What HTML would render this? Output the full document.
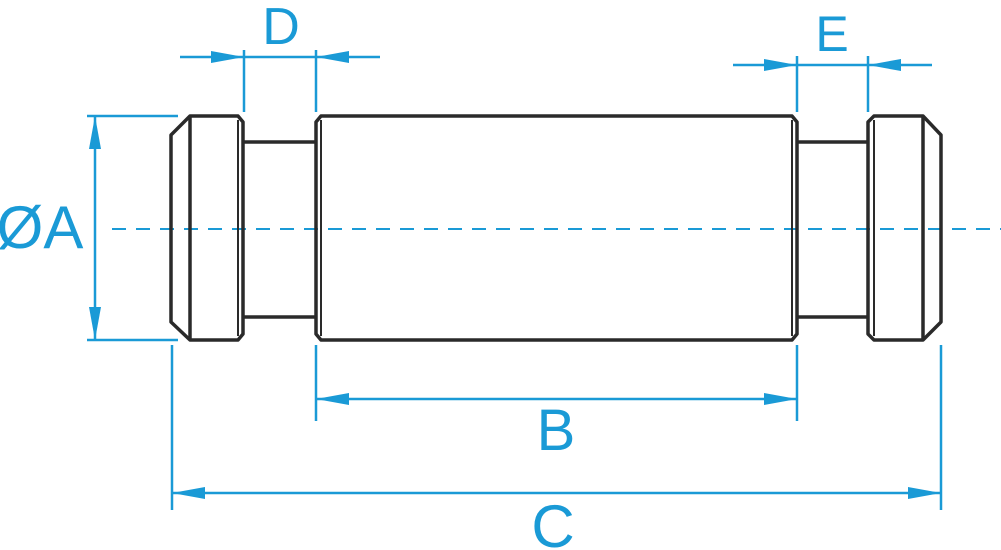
<!DOCTYPE html>
<html><head><style>
html,body{margin:0;padding:0;background:#fff;width:1001px;height:550px;overflow:hidden}
svg{display:block}
text{font-family:"Liberation Sans",sans-serif;fill:#1a9ad6}
</style></head><body>
<svg width="1001" height="550" viewBox="0 0 1001 550" xmlns="http://www.w3.org/2000/svg">
<defs>
<marker id="ar" viewBox="0 0 33 12" refX="33" refY="6" markerWidth="33" markerHeight="12" markerUnits="userSpaceOnUse" orient="auto">
<path d="M0,0 L33,6 L0,12 z" fill="#1a9ad6"/>
</marker>
</defs>
<g stroke="#1a9ad6" stroke-width="2.5" fill="none">
<line x1="112" y1="229" x2="1001" y2="229" stroke-dasharray="14,10" stroke-width="2"/>
<line x1="244" y1="50" x2="244" y2="112"/><line x1="316" y1="50" x2="316" y2="112"/>
<line x1="180" y1="57" x2="244" y2="57" marker-end="url(#ar)"/>
<line x1="380" y1="57" x2="316" y2="57" marker-end="url(#ar)"/>
<line x1="244" y1="57" x2="316" y2="57"/>
<line x1="797" y1="56" x2="797" y2="112"/><line x1="868" y1="56" x2="868" y2="112"/>
<line x1="733" y1="65" x2="797" y2="65" marker-end="url(#ar)"/>
<line x1="932" y1="65" x2="868" y2="65" marker-end="url(#ar)"/>
<line x1="797" y1="65" x2="868" y2="65"/>
<line x1="87" y1="116" x2="178" y2="116"/><line x1="87" y1="340" x2="178" y2="340"/>
<line x1="95" y1="229" x2="95" y2="116" marker-end="url(#ar)"/>
<line x1="95" y1="229" x2="95" y2="340" marker-end="url(#ar)"/>
<line x1="316" y1="345" x2="316" y2="421"/><line x1="797" y1="345" x2="797" y2="421"/>
<line x1="556" y1="399" x2="316" y2="399" marker-end="url(#ar)"/>
<line x1="556" y1="399" x2="797" y2="399" marker-end="url(#ar)"/>
<line x1="172" y1="345" x2="172" y2="510"/><line x1="941" y1="345" x2="941" y2="510"/>
<line x1="556" y1="493" x2="172" y2="493" marker-end="url(#ar)"/>
<line x1="556" y1="493" x2="941" y2="493" marker-end="url(#ar)"/>
</g>
<g stroke="#2a2a2a" stroke-width="3.5" fill="none" stroke-linejoin="round">
<path d="M190,116 L238,116 L243,122 L243,334 L238,340 L190,340 L171,322 L171,135 Z"/>
<line x1="190" y1="116" x2="190" y2="340"/>
<line x1="243" y1="142" x2="316" y2="142"/><line x1="243" y1="317" x2="316" y2="317"/>
<path d="M321,116 L792,116 L797,122 L797,334 L792,340 L321,340 L316,334 L316,122 Z"/>
<line x1="321" y1="120" x2="321" y2="336" stroke-width="2"/>
<line x1="792" y1="120" x2="792" y2="336" stroke-width="2"/>
<line x1="797" y1="142" x2="868" y2="142"/><line x1="797" y1="317" x2="868" y2="317"/>
<path d="M874,116 L923,116 L941,135 L941,322 L923,340 L874,340 L868,334 L868,122 Z"/>
<line x1="923" y1="116" x2="923" y2="340"/>
<line x1="874" y1="120" x2="874" y2="336" stroke-width="2"/>
<line x1="238" y1="120" x2="238" y2="336" stroke-width="2"/>
</g>
<text x="281" y="44" font-size="52" text-anchor="middle">D</text>
<text x="832" y="51" font-size="50" text-anchor="middle">E</text>
<text x="40" y="248" font-size="60" text-anchor="middle">ØA</text>
<text x="556" y="450" font-size="58" text-anchor="middle">B</text>
<text x="553" y="547" font-size="60" text-anchor="middle">C</text>
</svg>
</body></html>
